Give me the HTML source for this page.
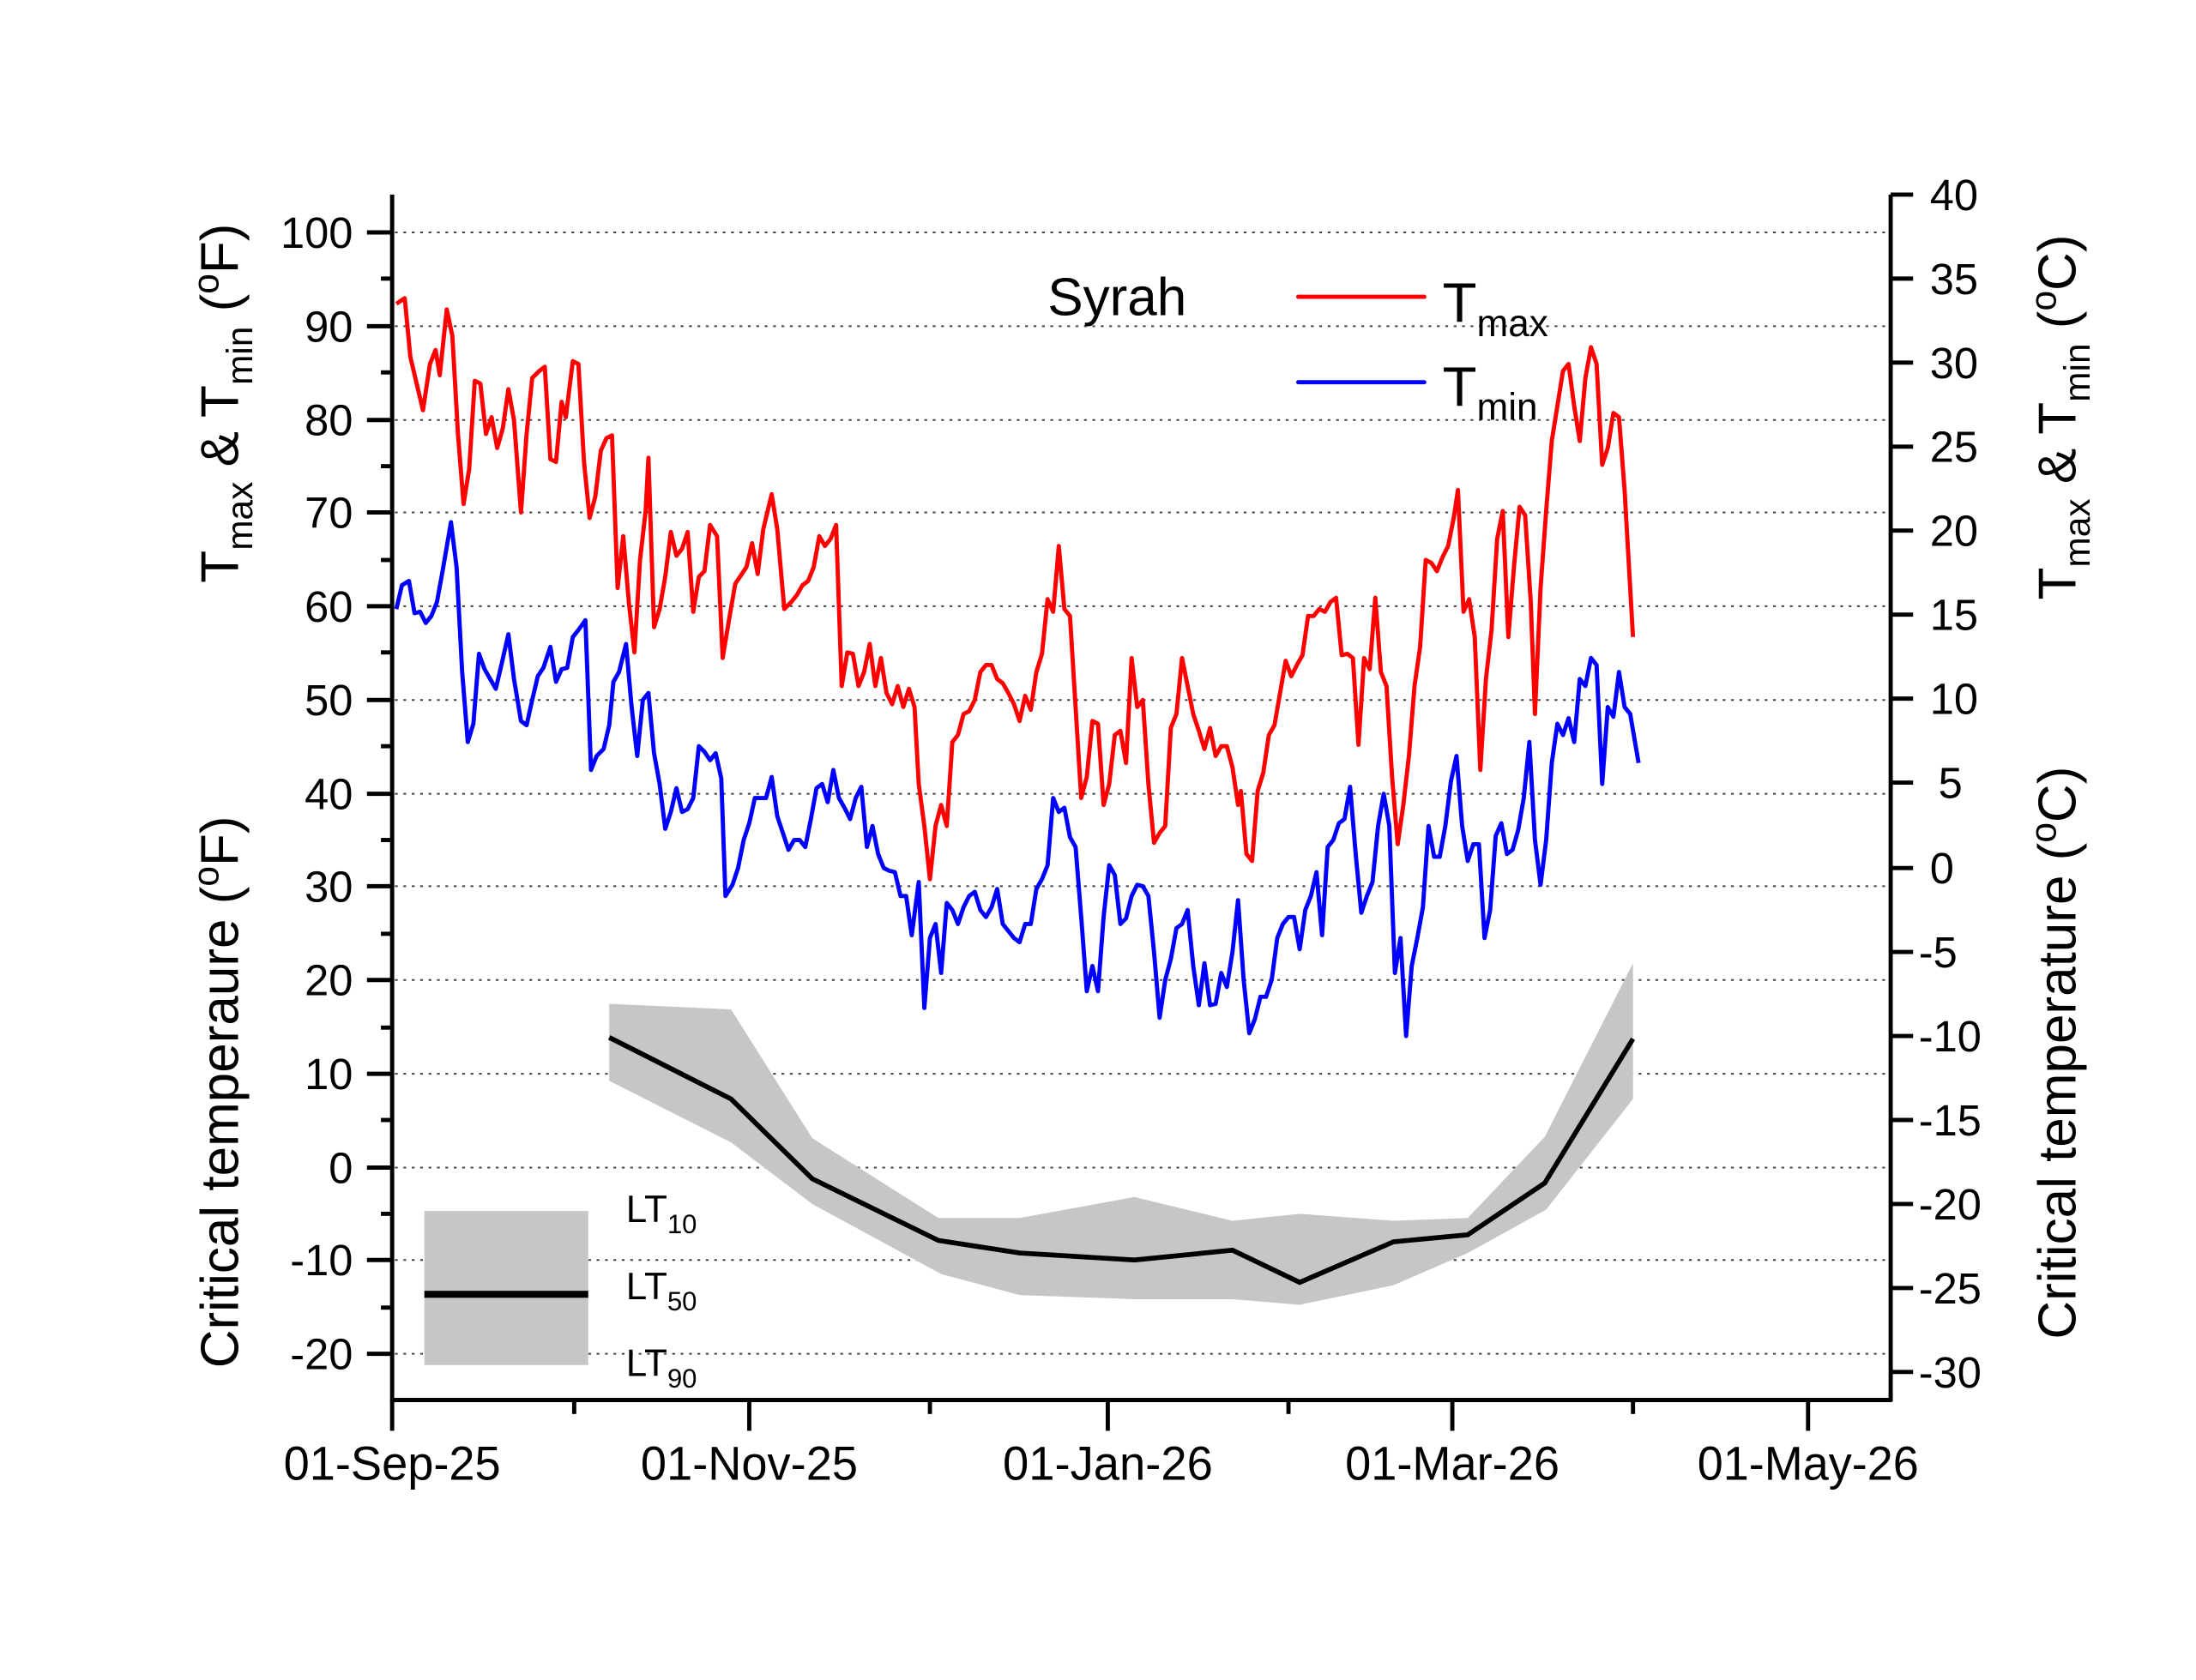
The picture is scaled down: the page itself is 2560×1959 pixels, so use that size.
<!DOCTYPE html>
<html><head><meta charset="utf-8"><style>
html,body{margin:0;padding:0;background:#fff;}
svg{display:block;}
text{font-family:"Liberation Sans",Arial,sans-serif;fill:#000;}
</style></head><body>
<svg width="2560" height="1959" viewBox="0 0 1568 1200" preserveAspectRatio="none" xmlns="http://www.w3.org/2000/svg">
<rect width="1568" height="1200" fill="#fff"/>
<!-- grid -->
<g stroke="#444" stroke-width="1.2" stroke-dasharray="2,4">
<line x1="282" x2="1348" y1="166" y2="166"/>
<line x1="282" x2="1348" y1="233" y2="233"/>
<line x1="282" x2="1348" y1="300" y2="300"/>
<line x1="282" x2="1348" y1="366" y2="366"/>
<line x1="282" x2="1348" y1="433" y2="433"/>
<line x1="282" x2="1348" y1="500" y2="500"/>
<line x1="282" x2="1348" y1="567" y2="567"/>
<line x1="282" x2="1348" y1="633" y2="633"/>
<line x1="282" x2="1348" y1="700" y2="700"/>
<line x1="282" x2="1348" y1="767" y2="767"/>
<line x1="282" x2="1348" y1="834" y2="834"/>
<line x1="282" x2="1348" y1="900" y2="900"/>
<line x1="282" x2="1348" y1="967" y2="967"/>
</g>
<!-- band -->
<polygon fill="#c6c6c6" points="435,717 522,721 580,813 670,870 728,870 810,855 880,872 928,867 995,872 1048,870 1103,812 1166,688 1166,785 1104,864 1048,895 995,918 928,932 880,928 810,928 728,925 672,910 580,860 522,816 435,772"/>
<polyline fill="none" stroke="#000" stroke-width="3.5" stroke-linejoin="miter" points="435,741 522,785 580,842 670,886 728,895 810,900 880,893 928,916 995,887 1048,882 1103,845 1166,742"/>
<!-- Tmax -->
<polyline fill="none" stroke="#ff0000" stroke-width="3" stroke-linejoin="round" points="283,217 289,213 293,255 302,293 307,260 311,250 314,268 319,221 323,240 327,310 331,360 335,335 339,272 343,274 347,310 351,298 355,320 359,306 363,278 367,300 372,366 376,310 380,270 385,265 389,262 393,328 397,330 401,287 404,298 409,258 413,260 417,330 421,370 425,355 429,322 433,313 437,311 441,420 445,383 449,430 453,466 457,400 461,365 463,327 467,448 471,435 475,412 479,380 483,397 487,392 491,380 495,437 499,412 503,408 507,375 512,383 516,470 521,440 525,417 529,411 533,405 537,388 541,410 545,378 551,353 555,378 560,435 565,430 569,425 573,418 577,415 581,405 585,383 589,390 593,385 597,375 601,490 605,466 609,467 613,490 617,480 621,460 625,490 629,470 633,495 637,503 641,490 645,505 649,492 653,505 656,560 660,590 664,628 668,590 672,575 676,590 680,530 684,525 688,510 692,508 696,500 700,480 704,475 708,475 712,485 716,488 720,495 724,503 728,515 732,497 736,507 740,480 744,467 748,428 752,437 756,390 760,435 764,440 768,505 772,570 776,555 780,515 784,517 788,575 792,560 796,525 800,522 804,545 808,470 812,505 816,500 820,560 824,602 828,595 832,590 836,520 840,510 844,470 848,490 852,510 856,522 860,535 864,520 868,540 872,533 876,533 880,548 884,575 886,565 890,610 894,615 898,565 902,552 906,525 910,518 914,495 918,472 922,483 926,475 930,468 934,440 938,440 942,435 946,437 950,430 954,427 958,468 962,467 966,470 970,532 974,470 978,478 982,427 986,480 990,490 994,555 998,603 1002,575 1006,540 1010,490 1014,462 1018,400 1022,402 1026,408 1030,398 1034,390 1038,370 1041,350 1045,437 1049,428 1053,455 1057,550 1061,485 1065,450 1069,385 1073,365 1077,455 1081,405 1085,362 1089,368 1093,430 1096,510 1100,420 1104,365 1108,315 1112,290 1116,265 1120,260 1124,290 1128,315 1132,270 1136,248 1140,260 1144,332 1148,320 1152,295 1156,298 1160,350 1166,455"/>
<!-- Tmin -->
<polyline fill="none" stroke="#0000ff" stroke-width="3" stroke-linejoin="round" points="283,435 287,418 292,415 296,438 300,437 304,445 308,440 312,430 316,408 322,373 326,405 330,480 334,530 338,517 342,467 346,478 350,485 354,492 358,475 363,453 367,485 372,515 376,518 380,500 384,483 388,477 393,462 397,487 401,478 405,477 409,455 413,450 418,443 422,550 426,540 431,535 435,518 438,487 442,480 447,460 451,505 455,540 459,500 463,495 467,538 471,560 475,592 479,580 483,563 487,580 491,578 495,570 499,533 503,537 507,543 511,538 515,556 518,640 523,632 527,620 531,600 535,588 539,570 543,570 547,570 551,555 555,583 559,595 563,607 567,600 571,600 575,605 579,585 583,563 587,560 591,573 595,550 599,570 603,577 607,585 611,570 615,562 619,605 623,590 627,610 631,620 635,622 639,623 643,640 647,640 651,668 656,630 660,720 664,670 668,660 672,695 676,645 680,650 684,660 688,648 692,640 696,637 700,650 704,655 708,648 712,635 716,660 720,665 724,670 728,673 732,660 736,660 740,635 744,628 748,618 752,570 756,580 760,577 764,598 768,605 772,655 776,708 780,690 784,708 788,655 792,618 796,625 800,660 804,656 808,640 812,632 816,633 820,640 824,680 828,727 832,700 836,685 840,663 844,660 848,650 852,690 856,718 860,688 864,718 868,717 872,695 876,705 880,680 884,643 888,700 892,738 896,728 900,712 904,712 908,700 912,670 916,660 920,655 924,655 928,678 932,650 936,640 940,623 944,668 948,605 952,600 956,588 960,585 964,562 968,610 972,652 976,640 980,630 984,590 988,567 992,590 996,695 1000,670 1004,740 1008,690 1012,670 1016,648 1020,590 1024,612 1028,612 1032,590 1036,558 1040,540 1044,590 1048,615 1052,603 1056,603 1060,670 1064,650 1068,597 1072,588 1076,610 1080,607 1084,593 1088,570 1092,530 1096,600 1100,632 1104,600 1108,545 1112,517 1116,525 1120,513 1124,530 1128,485 1132,490 1136,470 1140,475 1144,560 1148,505 1152,512 1156,480 1160,505 1164,510 1170,545"/>
<!-- legend box -->
<rect x="303" y="865" width="117" height="110" fill="#c6c6c6"/>
<rect x="303" y="922" width="117" height="5" fill="#000"/>
<text x="447" y="873" font-size="27">LT<tspan font-size="19" dy="8">10</tspan></text>
<text x="447" y="928" font-size="27">LT<tspan font-size="19" dy="8">50</tspan></text>
<text x="447" y="983" font-size="27">LT<tspan font-size="19" dy="8">90</tspan></text>
<!-- top legend -->
<text x="748" y="225" font-size="38">Syrah</text>
<line x1="927" y1="212" x2="1017" y2="212" stroke="#ff0000" stroke-width="3" stroke-linecap="round"/>
<line x1="927" y1="273" x2="1017" y2="273" stroke="#0000ff" stroke-width="3" stroke-linecap="round"/>
<text x="1030" y="230" font-size="40">T<tspan font-size="27" dy="10">max</tspan></text>
<text x="1030" y="290" font-size="40">T<tspan font-size="27" dy="10">min</tspan></text>
<!-- axes -->
<g stroke="#000" stroke-width="3" fill="none">
<line x1="280" y1="139" x2="280" y2="1001"/>
<line x1="1350" y1="139" x2="1350" y2="1001"/>
<line x1="279" y1="1000" x2="1351" y2="1000"/>
</g>
<g stroke="#000" stroke-width="3">
<!-- left major -->
<line x1="262" x2="280" y1="166" y2="166"/><line x1="262" x2="280" y1="233" y2="233"/><line x1="262" x2="280" y1="300" y2="300"/><line x1="262" x2="280" y1="366" y2="366"/><line x1="262" x2="280" y1="433" y2="433"/><line x1="262" x2="280" y1="500" y2="500"/><line x1="262" x2="280" y1="567" y2="567"/><line x1="262" x2="280" y1="633" y2="633"/><line x1="262" x2="280" y1="700" y2="700"/><line x1="262" x2="280" y1="767" y2="767"/><line x1="262" x2="280" y1="834" y2="834"/><line x1="262" x2="280" y1="900" y2="900"/><line x1="262" x2="280" y1="967" y2="967"/>
<!-- left minor -->
<line x1="272" x2="280" y1="199" y2="199"/><line x1="272" x2="280" y1="266" y2="266"/><line x1="272" x2="280" y1="333" y2="333"/><line x1="272" x2="280" y1="400" y2="400"/><line x1="272" x2="280" y1="466" y2="466"/><line x1="272" x2="280" y1="533" y2="533"/><line x1="272" x2="280" y1="600" y2="600"/><line x1="272" x2="280" y1="667" y2="667"/><line x1="272" x2="280" y1="734" y2="734"/><line x1="272" x2="280" y1="800" y2="800"/><line x1="272" x2="280" y1="867" y2="867"/><line x1="272" x2="280" y1="934" y2="934"/>
<!-- right major -->
<line x1="1350" x2="1366" y1="139" y2="139"/><line x1="1350" x2="1366" y1="199" y2="199"/><line x1="1350" x2="1366" y1="259" y2="259"/><line x1="1350" x2="1366" y1="319" y2="319"/><line x1="1350" x2="1366" y1="379" y2="379"/><line x1="1350" x2="1366" y1="439" y2="439"/><line x1="1350" x2="1366" y1="499" y2="499"/><line x1="1350" x2="1366" y1="559" y2="559"/><line x1="1350" x2="1366" y1="620" y2="620"/><line x1="1350" x2="1366" y1="680" y2="680"/><line x1="1350" x2="1366" y1="740" y2="740"/><line x1="1350" x2="1366" y1="800" y2="800"/><line x1="1350" x2="1366" y1="860" y2="860"/><line x1="1350" x2="1366" y1="920" y2="920"/><line x1="1350" x2="1366" y1="980" y2="980"/>
<!-- bottom -->
<line x1="280" x2="280" y1="1000" y2="1022"/><line x1="535" x2="535" y1="1000" y2="1022"/><line x1="791" x2="791" y1="1000" y2="1022"/><line x1="1037" x2="1037" y1="1000" y2="1022"/><line x1="1291" x2="1291" y1="1000" y2="1022"/>
<line x1="410" x2="410" y1="1000" y2="1010"/><line x1="664" x2="664" y1="1000" y2="1010"/><line x1="920" x2="920" y1="1000" y2="1010"/><line x1="1166" x2="1166" y1="1000" y2="1010"/>
</g>
<!-- left tick labels -->
<g font-size="31" text-anchor="end">
<text x="252" y="177">100</text><text x="252" y="244">90</text><text x="252" y="311">80</text><text x="252" y="377">70</text><text x="252" y="444">60</text><text x="252" y="511">50</text><text x="252" y="578">40</text><text x="252" y="644">30</text><text x="252" y="711">20</text><text x="252" y="778">10</text><text x="252" y="845">0</text><text x="252" y="911">-10</text><text x="252" y="978">-20</text>
</g>
<g font-size="31" text-anchor="start">
<text x="1378" y="150">40</text><text x="1378" y="210">35</text><text x="1378" y="270">30</text><text x="1378" y="330">25</text><text x="1378" y="390">20</text><text x="1378" y="450">15</text><text x="1378" y="510">10</text><text x="1384" y="570">5</text><text x="1378" y="631">0</text><text x="1370" y="691">-5</text><text x="1370" y="751">-10</text><text x="1370" y="811">-15</text><text x="1370" y="871">-20</text><text x="1370" y="931">-25</text><text x="1370" y="991">-30</text>
</g>
<g font-size="34" text-anchor="middle">
<text x="280" y="1057" textLength="155" lengthAdjust="spacingAndGlyphs">01-Sep-25</text>
<text x="535" y="1057" textLength="155" lengthAdjust="spacingAndGlyphs">01-Nov-25</text>
<text x="791" y="1057" textLength="150" lengthAdjust="spacingAndGlyphs">01-Jan-26</text>
<text x="1037" y="1057" textLength="153" lengthAdjust="spacingAndGlyphs">01-Mar-26</text>
<text x="1291" y="1057" textLength="158" lengthAdjust="spacingAndGlyphs">01-May-26</text>
</g>
<!-- axis titles -->
<text transform="translate(170,288) rotate(-90)" font-size="38" text-anchor="middle">T<tspan font-size="26" dy="10">max</tspan><tspan dy="-10"> &amp; T</tspan><tspan font-size="26" dy="10">min</tspan><tspan dy="-10"> (</tspan><tspan font-size="26" dy="-14">o</tspan><tspan dy="14">F)</tspan></text>
<text transform="translate(170,780) rotate(-90)" font-size="38" text-anchor="middle">Critical temperaure (<tspan font-size="26" dy="-14">o</tspan><tspan dy="14">F)</tspan></text>
<text transform="translate(1482,298) rotate(-90)" font-size="38" text-anchor="middle">T<tspan font-size="26" dy="10">max</tspan><tspan dy="-10"> &amp; T</tspan><tspan font-size="26" dy="10">min</tspan><tspan dy="-10"> (</tspan><tspan font-size="26" dy="-14">o</tspan><tspan dy="14">C)</tspan></text>
<text transform="translate(1482,752) rotate(-90)" font-size="38" text-anchor="middle">Critical temperature (<tspan font-size="26" dy="-14">o</tspan><tspan dy="14">C)</tspan></text>
</svg>
</body></html>
